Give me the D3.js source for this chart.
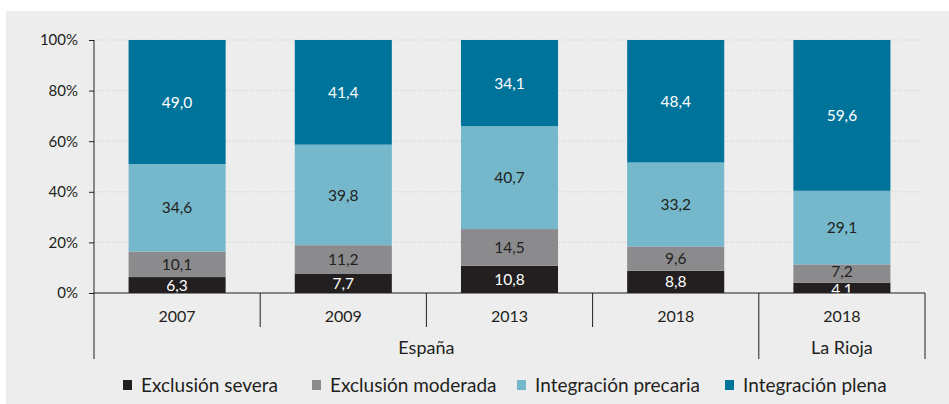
<body style="margin:0;background:#ffffff">
	<div id="section1"></div>
</body>

<script src="https://d3js.org/d3.v7.min.js"></script>

<script>
  // data
  var years = ["2007", "2009", "2013", "2018", "2018"];
  var regions = ["España", "España", "España", "España", "La Rioja"];
  var series = ["Exclusión severa", "Exclusión moderada", "Integración precaria", "Integración plena"];
  var severa = [6.3, 7.7, 10.8, 8.8, 4.1];
  var moderada = [10.1, 11.2, 14.5, 9.6, 7.2];
  var precaria = [34.6, 39.8, 40.7, 33.2, 29.1];
  var plena = [49.0, 41.4, 34.1, 48.4, 59.6];
  var yTicks = [0, 20, 40, 60, 80, 100];
  var colors = ["#231f20", "#8b8b8e", "#75b7cb", "#00739a"];
  var labelColors = ["#ffffff", "#231f20", "#231f20", "#ffffff"];

  var width = 949;
  var height = 404;
  var svg1 = d3.select("#section1")
	.append("svg")
	.attr("width", width)
	.attr("height", height)
	.style("display", "block");

  // gray panel
  svg1.append("rect")
	.attr("x", 6)
	.attr("y", 11)
	.attr("width", width - 6)
	.attr("height", height - 11)
	.attr("fill", "#ededed");

  var rows = years.map(function(y, i) {
	return { key: i, year: y, region: regions[i],
	  "Exclusión severa": severa[i], "Exclusión moderada": moderada[i],
	  "Integración precaria": precaria[i], "Integración plena": plena[i] };
  });

  var xScale = d3.scaleBand()
	.domain(rows.map(function(d) { return d.key; }))
	.range([94, 925])
	.paddingInner(0.416)
	.paddingOuter(0.208);
  var yScale = d3.scaleLinear()
	.domain([0, 100])
	.range([293, 40]);

  // dotted grid
  svg1.selectAll(".grid")
	.data(yTicks.slice(1))
	.enter().append("line")
	.attr("x1", 94)
	.attr("x2", 925)
	.attr("y1", function(d) { return yScale(d); })
	.attr("y2", function(d) { return yScale(d); })
	.attr("stroke", "#c9c9c9")
	.attr("stroke-width", 1)
	.attr("stroke-dasharray", "1,2");

  var stack = d3.stack().keys(series).offset(d3.stackOffsetExpand);
  var stacked = stack(rows);

  var layers = svg1.selectAll(".layer")
	.data(stacked)
	.enter().append("g")
	.attr("fill", function(d, i) { return colors[i]; });

  layers.selectAll("rect")
	.data(function(d) { return d; })
	.enter().append("rect")
	.attr("x", function(d) { return xScale(d.data.key); })
	.attr("width", xScale.bandwidth())
	.attr("y", function(d) { return yScale(d[1] * 100); })
	.attr("height", function(d) { return yScale(d[0] * 100) - yScale(d[1] * 100); });

  // label centres, pushed apart a little where two thin segments sit together
  function mid(d) { return (yScale(d[0] * 100) + yScale(d[1] * 100)) / 2; }
  var labelY = stacked.map(function(layer) { return layer.map(mid); });
  rows.forEach(function(r, j) {
	var gap = labelY[0][j] - labelY[1][j];
	if (gap < 18) {
	  labelY[0][j] += (18 - gap) / 3;
	  labelY[1][j] -= (18 - gap) * 2 / 3;
	}
  });

  layers.each(function(layer, li) {
	d3.select(this).selectAll("text")
	  .data(layer)
	  .enter().append("text")
	  .attr("x", function(d) { return xScale(d.data.key) + xScale.bandwidth() / 2; })
	  .attr("y", function(d, j) { return labelY[li][j]; })
	  .attr("dy", "0.36em")
	  .attr("text-anchor", "middle")
	  .attr("font-family", "Lato, sans-serif")
	  .attr("font-size", "15.5px")
	  .attr("fill", labelColors[li])
	  .text(function(d) { return d3.format(".1f")(d.data[layer.key]).replace(".", ","); });
  });

  // y axis
  var yAxis = d3.axisLeft(yScale)
	.tickValues(yTicks)
	.tickSize(5)
	.tickPadding(11)
	.tickFormat(function(d) { return d + "%"; });
  var gy = svg1.append("g")
	.attr("transform", "translate(94,0)")
	.call(yAxis);
  gy.select(".domain").remove();
  gy.selectAll("line").attr("stroke", "#231f20");
  gy.selectAll("text")
	.attr("font-family", "Lato, sans-serif")
	.attr("font-size", "15px")
	.attr("fill", "#231f20");
  svg1.append("line")
	.attr("x1", 94).attr("x2", 94)
	.attr("y1", yScale(100)).attr("y2", 359)
	.attr("stroke", "#231f20");

  // x axis line
  svg1.append("line")
	.attr("x1", 94).attr("x2", 925)
	.attr("y1", yScale(0)).attr("y2", yScale(0))
	.attr("stroke", "#231f20");

  // separators between bands
  var step = xScale.step();
  rows.forEach(function(d, i) {
	var right = xScale(d.key) - xScale.paddingOuter() * step + step;
	var long = (i == rows.length - 1) || rows[i + 1].region != d.region;
	svg1.append("line")
	  .attr("x1", right).attr("x2", right)
	  .attr("y1", yScale(0)).attr("y2", long ? 359 : 327)
	  .attr("stroke", "#231f20");
	svg1.append("text")
	  .attr("x", xScale(d.key) + xScale.bandwidth() / 2)
	  .attr("y", 316)
	  .attr("dy", "0.36em")
	  .attr("text-anchor", "middle")
	  .attr("font-family", "Lato, sans-serif")
	  .attr("font-size", "16px")
	  .attr("fill", "#231f20")
	  .text(d.year);
  });

  // region labels
  var regionNames = Array.from(new Set(regions));
  regionNames.forEach(function(r) {
	var idx = rows.filter(function(d) { return d.region == r; });
	var x0 = xScale(idx[0].key) - xScale.paddingOuter() * step;
	var x1 = xScale(idx[idx.length - 1].key) - xScale.paddingOuter() * step + step;
	svg1.append("text")
	  .attr("x", (x0 + x1) / 2)
	  .attr("y", 348)
	  .attr("dy", "0.36em")
	  .attr("text-anchor", "middle")
	  .attr("font-family", "Lato, sans-serif")
	  .attr("font-size", "18px")
	  .attr("fill", "#231f20")
	  .text(r);
  });

  // legend
  var legendX = [123, 312, 517, 725];
  series.forEach(function(s, i) {
	svg1.append("rect")
	  .attr("x", legendX[i])
	  .attr("y", 380)
	  .attr("width", 9)
	  .attr("height", 10)
	  .attr("fill", colors[i]);
	svg1.append("text")
	  .attr("x", legendX[i] + 18)
	  .attr("y", 385)
	  .attr("dy", "0.36em")
	  .attr("font-family", "Lato, sans-serif")
	  .attr("font-size", "19px")
	  .attr("fill", "#231f20")
	  .text(s);
  });
</script>
